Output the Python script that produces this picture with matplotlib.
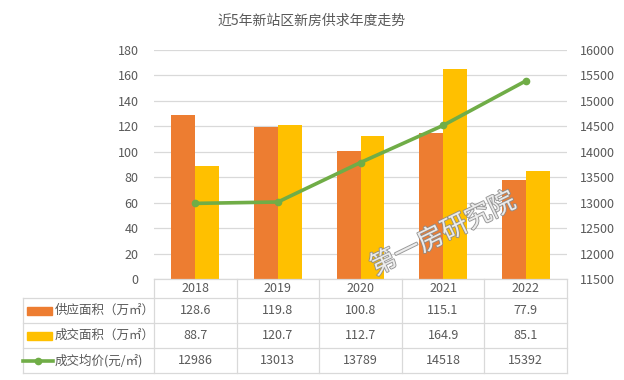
import matplotlib
matplotlib.use("Agg")
import matplotlib.pyplot as plt
import matplotlib.patheffects as pe
from matplotlib.lines import Line2D
from matplotlib.patches import Rectangle
import numpy as np

plt.rcParams["font.family"] = ["Noto Sans CJK SC", "DejaVu Sans"]

years = ["2018", "2019", "2020", "2021", "2022"]
supply = [128.6, 119.8, 100.8, 115.1, 77.9]
deal = [88.7, 120.7, 112.7, 164.9, 85.1]
price = [12986, 13013, 13789, 14518, 15392]
price_labels = ["12986", "13013", "13789", "14518", "15392"]
series_names = ["供应面积（万㎡）", "成交面积（万㎡）", "成交均价(元/㎡)"]

ORANGE = "#ED7D31"
YELLOW = "#FFC000"
GREEN = "#70AD47"
GRID = "#D9D9D9"
TXT = "#595959"

W, H = 624, 380
fig = plt.figure(figsize=(6.24, 3.8), dpi=100)

def fx(x):
    return x / W

def fy(y):
    return 1 - y / H

x0, x1 = 154, 567
y_top, y_bot = 50, 279
ax = fig.add_axes([fx(x0), fy(y_bot), fx(x1) - fx(x0), fy(y_top) - fy(y_bot)])
ax2 = ax.twinx()

x = np.arange(len(years))
bw = 0.29
ax.bar(x - bw / 2, supply, bw, color=ORANGE, zorder=3)
ax.bar(x + bw / 2, deal, bw, color=YELLOW, zorder=3)
ax.set_xlim(-0.5, len(years) - 0.5)
ax.set_ylim(0, 180)
ax.set_yticks(range(0, 181, 20))
ax.yaxis.grid(True, color=GRID, lw=0.9, zorder=0)
ax.set_axisbelow(True)
ax.set_xticks([])

ax2.plot(x, price, color=GREEN, lw=2.6, marker="o", ms=4.5, zorder=5)
ax2.set_ylim(11500, 16000)
ax2.set_yticks(range(11500, 16001, 500))

for a in (ax, ax2):
    for s in a.spines.values():
        s.set_visible(False)
    a.tick_params(length=0, labelsize=9, colors=TXT)
ax.tick_params(pad=11)
ax2.tick_params(pad=9)

# ---- data table ----
tl, tr = 23, x1
rows = [279, 298, 323, 348, 373]
colw = (x1 - x0) / len(years)
lc = dict(color=GRID, lw=0.9, transform=fig.transFigure)

fig.add_artist(Line2D([fx(x0), fx(tr)], [fy(rows[0])] * 2, **lc))
for r in rows[1:]:
    fig.add_artist(Line2D([fx(tl), fx(tr)], [fy(r)] * 2, **lc))
fig.add_artist(Line2D([fx(tl)] * 2, [fy(rows[1]), fy(rows[-1])], **lc))
for i in range(len(years) + 1):
    xx = x0 + i * colw
    fig.add_artist(Line2D([fx(xx)] * 2, [fy(rows[0]), fy(rows[-1])], **lc))

def cell_text(xc, yc, s, ha="center"):
    fig.text(fx(xc), fy(yc), s, ha=ha, va="center", fontsize=9, color=TXT)

for i, yr in enumerate(years):
    cx = x0 + (i + 0.5) * colw
    cell_text(cx, (rows[0] + rows[1]) / 2, yr)
    cell_text(cx, (rows[1] + rows[2]) / 2, f"{supply[i]:.1f}")
    cell_text(cx, (rows[2] + rows[3]) / 2, f"{deal[i]:.1f}")
    cell_text(cx, (rows[3] + rows[4]) / 2, price_labels[i])

# legend keys inside table
for k, col in enumerate([ORANGE, YELLOW]):
    yc = (rows[k + 1] + rows[k + 2]) / 2
    fig.add_artist(Rectangle((fx(27), fy(yc + 4)), fx(52) - fx(27), fy(yc - 4) - fy(yc + 4),
                             color=col, transform=fig.transFigure))
    cell_text(55, yc, series_names[k], ha="left")
yc = (rows[3] + rows[4]) / 2
fig.add_artist(Line2D([fx(23), fx(53)], [fy(yc)] * 2, color=GREEN, lw=2.6,
                      transform=fig.transFigure))
fig.add_artist(Line2D([fx(38)], [fy(yc)], color=GREEN, marker="o", ms=4.5,
                      transform=fig.transFigure))
cell_text(55, yc, series_names[2], ha="left")

fig.text(0.5, fy(21), "近5年新站区新房供求年度走势", ha="center", va="center",
         fontsize=10, color=TXT)

# watermark
fig.text(fx(443), fy(234), "第一房研究院", ha="center", va="center", fontsize=19,
         rotation=26, color="#F4F4F4", alpha=0.9, zorder=10,
         path_effects=[pe.withStroke(linewidth=1.3, foreground="#8C8C8C")])

fig.savefig("out.png", dpi=100)
